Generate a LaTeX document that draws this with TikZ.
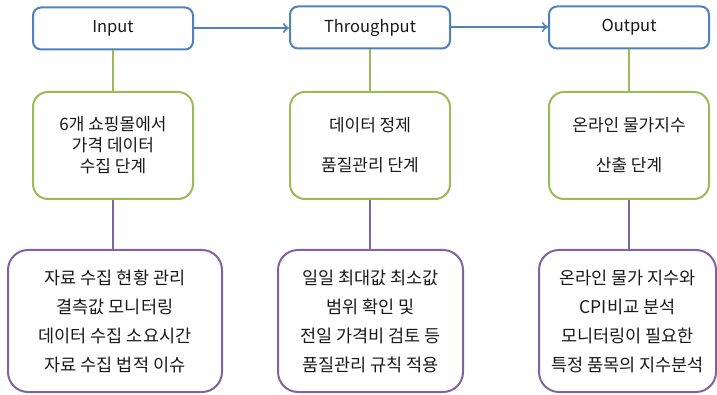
\documentclass[tikz,border=0pt]{standalone}
\usepackage{fontspec}
\setmainfont{Noto Sans CJK KR}
\usetikzlibrary{arrows.meta}
\definecolor{cblue}{HTML}{4F81BD}
\definecolor{cgreen}{HTML}{9BBB59}
\definecolor{cpurple}{HTML}{8064A2}
\begin{document}
\begin{tikzpicture}[x=1pt,y=-1pt,
  topbox/.style={draw=cblue,line width=2pt,rounded corners=8pt,minimum width=160pt,minimum height=42pt,inner sep=0pt,font=\fontsize{16.5}{19}\selectfont,text=black!90},
  greenbox/.style={draw=cgreen,line width=2pt,rounded corners=15pt,minimum width=160pt,minimum height=107pt,inner sep=0pt,align=center,font=\fontsize{17}{21}\selectfont,text=black!90},
  purplebox/.style={draw=cpurple,line width=2pt,rounded corners=20pt,minimum height=142pt,inner sep=0pt,align=center,font=\fontsize{17.5}{29}\selectfont,text=black!90},
  glink/.style={draw=cgreen,line width=1.6pt},
  plink/.style={draw=cpurple,line width=1.6pt},
  blink/.style={draw=cblue,line width=1.6pt,-{To[length=6pt,width=10pt]}}]
\useasboundingbox (0,0) rectangle (717,395);
\node[topbox] (in) at (113,28.5) {Input};
\node[topbox] (th) at (370,27.5) {Throughput};
\node[topbox] (out) at (629,27.5) {Output};
\node[greenbox] (g1) at (113,145.5) {6개 쇼핑몰에서\\가격 데이터\\수집 단계};
\node[greenbox] (g2) at (370,145.5) {데이터 정제\\[19pt]품질관리 단계};
\node[greenbox] (g3) at (629,145.5) {온라인 물가지수\\[19pt]산출 단계};
\node[purplebox,minimum width=214pt] (p1) at (115,321) {자료 수집 현황 관리\\결측값 모니터링\\데이터 수집 소요시간\\자료 수집 법적 이슈};
\node[purplebox,minimum width=185pt] (p2) at (370.5,321) {일일 최대값 최소값\\범위 확인 및\\전일 가격비 검토 등\\품질관리 규칙 적용};
\node[purplebox,minimum width=177pt] (p3) at (627.5,321) {온라인 물가 지수와\\CPI비교 분석\\모니터링이 필요한\\특정 품목의 지수분석};
\draw[blink] (in.east |- 0,28) -- (th.west |- 0,28);
\draw[blink] (th.east |- 0,27) -- (out.west |- 0,27);
\draw[glink] (in.south) -- (g1.north);
\draw[glink] (th.south) -- (g2.north);
\draw[glink] (out.south) -- (g3.north);
\draw[plink] (g1.south) -- (g1.south |- p1.north);
\draw[plink] (g2.south) -- (g2.south |- p2.north);
\draw[plink] (g3.south) -- (g3.south |- p3.north);
\end{tikzpicture}
\end{document}
